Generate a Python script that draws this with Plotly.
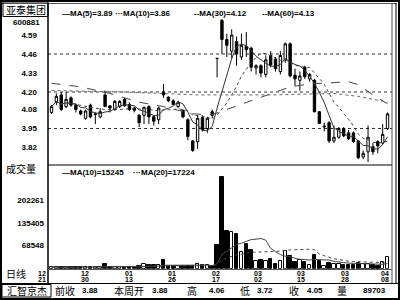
import plotly.graph_objects as go
import pandas as pd

W, H = 400, 300

# ---------------- data ----------------
opens = [4.06, 4.13, 4.18, 4.10, 4.16, 4.11, 4.07, 4.02, 4.11, 4.045,
         4.03, 4.18, 4.105, 4.08, 4.10, 4.15, 4.115, 4.09, 4.04, 4.04,
         4.10, 4.03, 4.01, 4.20, 4.165, 4.14, 4.10, 4.075, 4.01, 3.865,
         3.86, 4.025, 3.95, 4.065, 4.43, 4.69, 4.56, 4.48, 4.545, 4.44,
         4.51, 4.50, 4.365, 4.38, 4.32, 4.45, 4.425, 4.34, 4.42, 4.53,
         4.315, 4.28, 4.37, 4.29, 4.28, 4.065, 3.96, 3.99, 3.865, 3.89,
         3.95, 3.92, 3.92, 3.865, 3.755, 3.79, 3.825, 3.86, 3.85, 3.95]
highs = [4.11, 4.19, 4.20, 4.20, 4.17, 4.12, 4.08, 4.08, 4.12, 4.06,
         4.09, 4.21, 4.11, 4.145, 4.145, 4.16, 4.13, 4.10, 4.05, 4.10,
         4.11, 4.04, 4.10, 4.255, 4.17, 4.15, 4.14, 4.08, 4.02, 3.87,
         4.04, 4.04, 4.03, 4.08, 4.43, 4.70, 4.60, 4.63, 4.58, 4.60,
         4.61, 4.51, 4.39, 4.39, 4.45, 4.48, 4.44, 4.48, 4.54, 4.54,
         4.36, 4.34, 4.38, 4.33, 4.29, 4.07, 3.99, 4.00, 3.97, 3.96,
         3.96, 3.94, 3.93, 3.87, 3.80, 3.97, 3.85, 3.87, 3.98, 4.06]
lows = [4.05, 4.11, 4.07, 4.09, 4.10, 4.06, 4.04, 4.01, 4.02, 3.98,
        4.02, 4.10, 4.06, 4.07, 4.09, 4.10, 4.07, 4.06, 3.96, 3.98,
        3.98, 3.97, 3.98, 4.16, 4.13, 4.11, 4.09, 4.02, 3.87, 3.79,
        3.81, 3.93, 3.92, 4.02, 4.30, 4.46, 4.44, 4.43, 4.38, 4.42,
        4.44, 4.34, 4.32, 4.30, 4.30, 4.37, 4.34, 4.32, 4.40, 4.30,
        4.24, 4.21, 4.29, 4.27, 4.06, 3.98, 3.93, 3.85, 3.85, 3.88,
        3.89, 3.87, 3.85, 3.74, 3.74, 3.72, 3.77, 3.78, 3.84, 3.94]
closes = [4.10, 4.17, 4.08, 4.15, 4.11, 4.08, 4.05, 4.07, 4.03, 4.05,
          4.065, 4.10, 4.09, 4.135, 4.135, 4.105, 4.08, 4.075, 3.99, 4.095,
          4.03, 4.00, 4.09, 4.18, 4.14, 4.115, 4.13, 4.03, 3.895, 3.80,
          4.02, 3.94, 4.02, 4.04, 4.43, 4.56, 4.52, 4.59, 4.46, 4.52,
          4.49, 4.37, 4.38, 4.33, 4.42, 4.385, 4.36, 4.45, 4.53, 4.31,
          4.29, 4.31, 4.305, 4.32, 4.065, 3.985, 3.965, 3.865, 3.89, 3.95,
          3.90, 3.88, 3.86, 3.75, 3.78, 3.89, 3.79, 3.83, 3.91, 4.05]
volumes = [5000, 4000, 6500, 4000, 5000, 4500, 5000, 4500, 5500, 4000,
           4500, 14000, 5000, 4000, 5000, 6000, 5500, 5000, 7000, 14000,
           12000, 12000, 11000, 26000, 8000, 7500, 7000, 8000, 9500, 9000,
           13000, 11000, 11000, 8500, 70000, 271000, 110000, 108000, 102000, 49000,
           73000, 56000, 24000, 26500, 24000, 29000, 14000, 21500, 53000, 39000,
           21000, 26000, 19000, 11000, 40000, 22000, 8500, 16500, 15000, 13030,
           11000, 10000, 12500, 16000, 13247, 14100, 11800, 9600, 20500, 33703]

# longer moving averages (bar index, value)
ma30_idx = [0, 6, 12, 18, 23, 29, 33, 36, 40, 45, 49, 53, 57, 61, 63, 66, 69]
ma30_val = [4.26, 4.235, 4.19, 4.13, 4.10, 4.05, 4.045, 4.08, 4.13, 4.19,
            4.235, 4.255, 4.265, 4.27, 4.25, 4.18, 4.12]
ma60_idx = [0, 15, 30, 45, 58, 63, 69]
ma60_val = [4.21, 4.20, 4.18, 4.18, 4.19, 4.17, 4.13]

stock_name = "亚泰集团"
stock_code = "600881"
price_ticks = ["4.59", "4.46", "4.33", "4.20", "4.08", "3.95", "3.82"]
price_grid = [4.46, 4.20, 3.95]
vol_ticks = [202261, 135405, 68548]
date_month = ["12", "12", "01", "01", "02", "03", "03", "03", "04"]
date_day = ["21", "30", "13", "26", "17", "02", "15", "28", "08"]
date_pos = [-1.85, 6.9, 15.9, 24.8, 33.8, 42.5, 51.3, 60.3, 68.5]
status_labels = ["前收", "本周开", "高", "低", "收", "量"]
status_values = ["3.88", "3.88", "4.06", "3.72", "4.05", "89703"]
brand = "汇智京杰"

# ---------------- derived ----------------
n = len(closes)
idx = list(range(n))
cs = pd.Series(closes)
vs = pd.Series(volumes)
ma5 = cs.rolling(5, min_periods=1).mean()
ma10 = cs.rolling(10, min_periods=1).mean()
vma10 = vs.rolling(10, min_periods=1).mean()
vma20 = vs.rolling(20, min_periods=1).mean()
up = [c > o for o, c in zip(opens, closes)]


def px(x):
    return x / W


def py(y):
    return 1 - y / H


X0, X1 = 48, 392
BAR0, PITCH = 51.5, 4.87
XR = [(X0 - BAR0) / PITCH, (X1 - BAR0) / PITCH]
P_TOP, P_BOT = 3, 165
V_BOT = 268.8
PRICE_RANGE = [4.20 - (P_BOT - 92) / 146, 4.20 + (92 - P_TOP) / 146]
VOL_RANGE = [0, (V_BOT - P_BOT) * 2939]

NUMF = "Liberation Sans"
CJK = "Noto Sans CJK SC"
GRAY = "#555555"

fig = go.Figure()
fig.add_trace(go.Candlestick(
    x=idx, open=opens, high=highs, low=lows, close=closes,
    increasing=dict(line=dict(color="black", width=1), fillcolor="white"),
    decreasing=dict(line=dict(color="black", width=1), fillcolor="black"),
    whiskerwidth=0, showlegend=False, hoverinfo="skip",
    xaxis="x", yaxis="y"))
fig.add_trace(go.Scatter(x=idx, y=ma5, mode="lines",
                         line=dict(color="#333333", width=1), xaxis="x", yaxis="y",
                         showlegend=False, hoverinfo="skip"))
fig.add_trace(go.Scatter(x=idx, y=ma10, mode="lines",
                         line=dict(color="#444444", width=1, dash="dot"), xaxis="x", yaxis="y",
                         showlegend=False, hoverinfo="skip"))
fig.add_trace(go.Scatter(x=ma30_idx, y=ma30_val, mode="lines",
                         line=dict(color="#444444", width=1, dash="dash"), xaxis="x", yaxis="y",
                         showlegend=False, hoverinfo="skip"))
fig.add_trace(go.Scatter(x=ma60_idx, y=ma60_val, mode="lines",
                         line=dict(color="#666666", width=1, dash="dot"), xaxis="x", yaxis="y",
                         showlegend=False, hoverinfo="skip"))

fig.add_trace(go.Bar(x=idx, y=volumes, width=0.72,
                     marker=dict(color=["white" if u else "black" for u in up],
                                 line=dict(color="black", width=1)),
                     xaxis="x2", yaxis="y2", showlegend=False, hoverinfo="skip"))
fig.add_trace(go.Scatter(x=idx, y=vma10, mode="lines",
                         line=dict(color="#444444", width=1), xaxis="x2", yaxis="y2",
                         showlegend=False, hoverinfo="skip"))
fig.add_trace(go.Scatter(x=idx, y=vma20, mode="lines",
                         line=dict(color="#444444", width=1, dash="dot"), xaxis="x2", yaxis="y2",
                         showlegend=False, hoverinfo="skip"))

shapes = []
for g in price_grid:
    shapes.append(dict(type="line", xref="x domain", yref="y", x0=0, x1=1, y0=g, y1=g,
                       line=dict(color="#333333", width=1, dash="dot"), layer="below"))


def hline(y, x0, x1, color="black", w=1):
    shapes.append(dict(type="line", xref="paper", yref="paper", x0=px(x0), x1=px(x1),
                       y0=py(y), y1=py(y), line=dict(color=color, width=w)))


def vline(x, y0, y1, color="black", w=1):
    shapes.append(dict(type="line", xref="paper", yref="paper", x0=px(x), x1=px(x),
                       y0=py(y0), y1=py(y1), line=dict(color=color, width=w)))


def rect(x0, y0, x1, y1, color="black", w=1):
    shapes.append(dict(type="rect", xref="paper", yref="paper", x0=px(x0), x1=px(x1),
                       y0=py(y1), y1=py(y0), line=dict(color=color, width=w)))


rect(1, 1, 399, 299, "black", 2)
hline(3.5, 2, 397, GRAY)
vline(48, 3, 283, "black", 1.5)
vline(392, 3, 283, GRAY)
vline(396, 3, 283, "black")
hline(165, 48, 392)
hline(269.5, 48, 392, GRAY)
hline(283.5, 1, 399)
rect(3, 2, 48, 16.5)
rect(2, 284.5, 51, 297)

ann = []


def text(x, y, s, size=8, font=NUMF, xanchor="left", bold=True):
    ann.append(dict(x=px(x), y=py(y), xref="paper", yref="paper", showarrow=False,
                    text=("<b>%s</b>" % s) if bold else s, xanchor=xanchor, yanchor="middle",
                    font=dict(family=font, size=size, color="black")))


text(25.5, 9.5, stock_name, 10, CJK, "center", False)
text(26, 22, stock_code, 8, NUMF, "center")

leg = [("—MA(5)=%.2f" % ma5.iloc[-1], 60),
       ("···MA(10)=%.2f" % ma10.iloc[-1], 113),
       ("--MA(30)=%.2f" % ma30_val[-1], 192),
       ("--MA(60)=%.2f" % ma60_val[-1], 260)]
for s, x in leg:
    text(x, 13, s, 8)
vleg = [("—MA(10)=%d" % round(vma10.iloc[-1]), 60),
        ("···MA(20)=%d" % round(vma20.iloc[-1]), 131)]
for s, x in vleg:
    text(x, 172, s, 8)

text(21, 168.5, "成交量", 10, CJK, "center", False)
text(16, 273.5, "日线", 10, CJK, "center", False)

# date labels: positions given in bar units, converted to page position
for pos, m, d in zip(date_pos, date_month, date_day):
    xp = BAR0 + PITCH * pos
    text(xp, 273, m, 7, NUMF, "center")
    text(xp, 279, d, 7, NUMF, "center")

text(26.5, 290.5, brand, 10, CJK, "center", False)
lab_x = [53, 112, 185, 238, 287, 335]
val_x = [100, 170, 227, 275, 325, 388]
for s, x in zip(status_labels, lab_x):
    text(x, 290.5, s, 10, CJK, "left", False)
for s, x in zip(status_values, val_x):
    text(x, 290.5, s, 8, NUMF, "right")

axis_common = dict(showgrid=False, zeroline=False, showline=False, ticks="")
fig.update_layout(
    width=W, height=H, margin=dict(l=0, r=0, t=0, b=0),
    paper_bgcolor="white", plot_bgcolor="white",
    showlegend=False, bargap=0, boxgap=0.3,
    xaxis=dict(domain=[px(X0), px(X1)], range=XR, visible=False, anchor="y",
               rangeslider=dict(visible=False), **axis_common),
    xaxis2=dict(domain=[px(X0), px(X1)], range=XR, visible=False, anchor="y2",
                matches="x", **axis_common),
    yaxis=dict(domain=[py(P_BOT), py(P_TOP)], range=PRICE_RANGE, anchor="x",
               tickvals=[float(t) for t in price_ticks], ticktext=["<b>%s</b>" % t for t in price_ticks],
               tickfont=dict(family=NUMF, size=8, color="black"), ticklabelstandoff=10,
               **axis_common),
    yaxis2=dict(domain=[py(V_BOT), py(P_BOT)], range=VOL_RANGE, anchor="x2",
                tickvals=vol_ticks, ticktext=["<b>%d</b>" % t for t in vol_ticks],
                tickfont=dict(family=NUMF, size=8, color="black"), ticklabelstandoff=3,
                **axis_common),
    shapes=shapes, annotations=ann,
)

fig.write_html("out.html")
